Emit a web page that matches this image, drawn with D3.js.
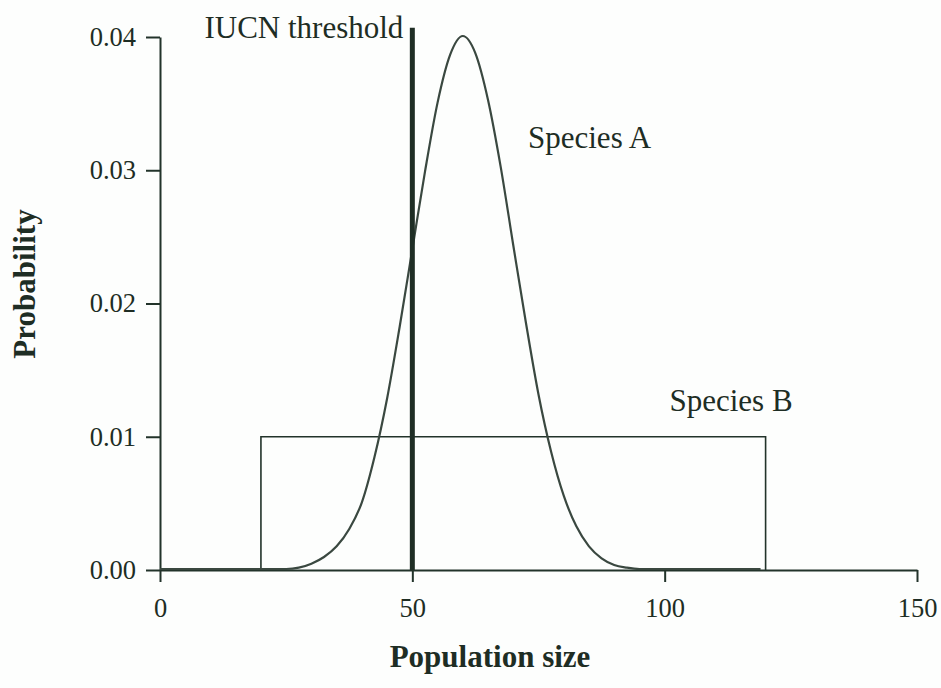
<!DOCTYPE html>
<html>
<head>
<meta charset="utf-8">
<script src="https://cdn.jsdelivr.net/npm/d3@7"></script>
<style>
  body { margin: 0; background: #fdfefd; }
  svg { display: block; }
  .chart text { font-family: "Liberation Serif", "Times New Roman", serif; fill: #1e2d24; }
  .axis path, .axis line { stroke: #22332a; stroke-width: 2; }
  .axis text { font-size: 26.5px; }
  .axis-title { font-weight: bold; font-size: 31px; }
  .label { font-size: 31px; }
</style>
</head>
<body>
<svg class="chart" width="941" height="688"></svg>
<script>
// species A
const popSize = [0, 5, 10, 15, 20, 25, 27.5, 30, 32.5, 35, 37.5, 40, 42.5, 45, 47.5, 50,
  52.5, 55, 57.5, 60, 62.5, 65, 67.5, 70, 72.5, 75, 77.5, 80, 82.5, 85, 87.5, 90, 92.5,
  95, 100, 105, 110, 115, 119];
const speciesA = [0, 0, 0, 0, 0, 0, 0.0001, 0.0004, 0.0009, 0.0017, 0.0030, 0.0050, 0.0084,
  0.0128, 0.0182, 0.0240, 0.0298, 0.0350, 0.0386, 0.0400, 0.0387, 0.0352, 0.0302, 0.0243,
  0.0185, 0.0131, 0.0088, 0.0055, 0.0032, 0.0017, 0.0008, 0.0003, 0.0001, 0, 0, 0, 0, 0, 0];

// species B: uniform between 20 and 120
const speciesBRange = [20, 120];
const speciesBProb = 0.01;

const threshold = 50;
const thresholdTop = 0.0407;

const xTicks = [0, 50, 100, 150];
const yTicks = [0, 0.01, 0.02, 0.03, 0.04];

const svg = d3.select('svg');
const x = d3.scaleLinear().domain([0, 150]).range([160, 917]);
const y = d3.scaleLinear().domain([0, 0.04]).range([570, 37]);

const axisX = d3.axisBottom(x)
  .tickValues(xTicks)
  .tickFormat(d3.format('d'))
  .tickSizeInner(12)
  .tickSizeOuter(0)
  .tickPadding(16);

svg.append('g')
  .attr('class', 'axis axis-x')
  .attr('transform', `translate(0,${y(0)})`)
  .call(axisX);

const axisY = d3.axisLeft(y)
  .tickValues(yTicks)
  .tickFormat(d3.format('.2f'))
  .tickSizeInner(14)
  .tickSizeOuter(0)
  .tickPadding(10);

svg.append('g')
  .attr('class', 'axis axis-y')
  .attr('transform', `translate(${x(0)},0)`)
  .call(axisY);

svg.selectAll('.axis text').attr('font-family', null);

// species B box
const boxLine = d3.line().x(d => x(d[0])).y(d => y(d[1]));
svg.append('path')
  .attr('d', boxLine([
    [speciesBRange[0], 0],
    [speciesBRange[0], speciesBProb],
    [speciesBRange[1], speciesBProb],
    [speciesBRange[1], 0]
  ]))
  .attr('fill', 'none')
  .attr('stroke', '#22332a')
  .attr('stroke-width', 1.6);

// species A curve
const curve = d3.line()
  .x((d, i) => x(popSize[i]))
  .y(d => y(d) - 1)
  .curve(d3.curveMonotoneX);

svg.append('path')
  .attr('d', curve(speciesA))
  .attr('fill', 'none')
  .attr('stroke', '#3a4840')
  .attr('stroke-width', 2.2);

// threshold
svg.append('line')
  .attr('x1', x(threshold))
  .attr('x2', x(threshold))
  .attr('y1', y(0))
  .attr('y2', y(thresholdTop))
  .attr('stroke', '#1f2e25')
  .attr('stroke-width', 5);

svg.append('text')
  .attr('class', 'label')
  .attr('x', x(threshold) - 9)
  .attr('y', 38)
  .attr('text-anchor', 'end')
  .text('IUCN threshold');

svg.append('text')
  .attr('class', 'label')
  .attr('x', 528)
  .attr('y', 148)
  .text('Species A');

svg.append('text')
  .attr('class', 'label')
  .attr('x', 731)
  .attr('y', 411)
  .attr('text-anchor', 'middle')
  .text('Species B');

svg.append('text')
  .attr('class', 'axis-title')
  .attr('x', 490)
  .attr('y', 667)
  .attr('text-anchor', 'middle')
  .text('Population size');

svg.append('text')
  .attr('class', 'axis-title')
  .attr('transform', 'translate(35,284) rotate(-90)')
  .attr('text-anchor', 'middle')
  .text('Probability');
</script>
</body>
</html>
